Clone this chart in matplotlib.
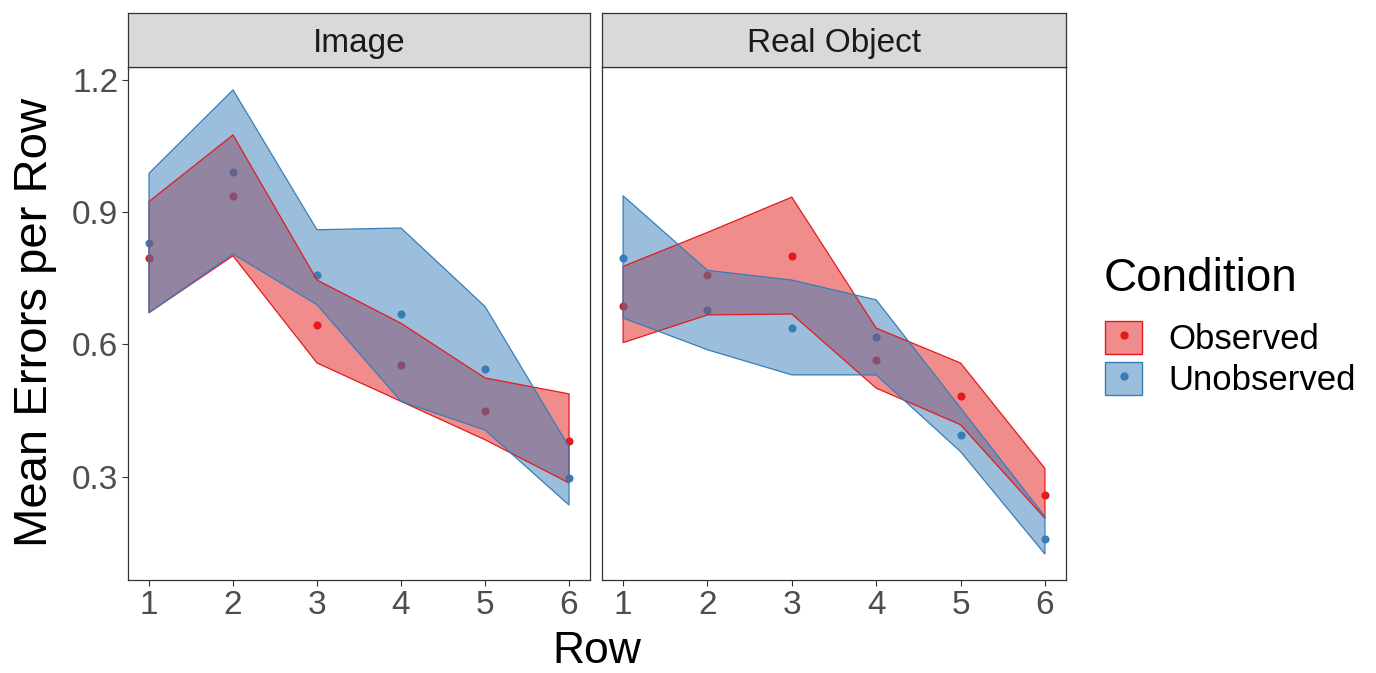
import matplotlib
matplotlib.use("Agg")
import matplotlib.pyplot as plt
from matplotlib.patches import Patch
from matplotlib.lines import Line2D

plt.rcParams['font.family'] = ['Liberation Sans', 'DejaVu Sans']

# data
rows = [1, 2, 3, 4, 5, 6]
panels = ["Image", "Real Object"]
conditions = ["Observed", "Unobserved"]

# Image panel
img_obs_mean = [0.797, 0.937, 0.645, 0.554, 0.449, 0.382]
img_obs_lo = [0.672, 0.801, 0.558, 0.471, 0.384, 0.286]
img_obs_hi = [0.924, 1.075, 0.746, 0.648, 0.524, 0.488]
img_unobs_mean = [0.829, 0.991, 0.758, 0.669, 0.545, 0.298]
img_unobs_lo = [0.672, 0.805, 0.690, 0.471, 0.406, 0.236]
img_unobs_hi = [0.988, 1.177, 0.860, 0.864, 0.686, 0.368]

# Real Object panel
real_obs_mean = [0.688, 0.758, 0.801, 0.565, 0.483, 0.258]
real_obs_lo = [0.604, 0.667, 0.669, 0.501, 0.418, 0.206]
real_obs_hi = [0.777, 0.854, 0.934, 0.637, 0.558, 0.319]
real_unobs_mean = [0.797, 0.677, 0.638, 0.616, 0.395, 0.160]
real_unobs_lo = [0.660, 0.588, 0.531, 0.531, 0.357, 0.125]
real_unobs_hi = [0.937, 0.768, 0.746, 0.701, 0.456, 0.210]

colors = {"Observed": "#E41A1C", "Unobserved": "#377EB8"}
data = {
    "Image": {
        "Observed": (img_obs_mean, img_obs_lo, img_obs_hi),
        "Unobserved": (img_unobs_mean, img_unobs_lo, img_unobs_hi),
    },
    "Real Object": {
        "Observed": (real_obs_mean, real_obs_lo, real_obs_hi),
        "Unobserved": (real_unobs_mean, real_unobs_lo, real_unobs_hi),
    },
}

W, H = 1376, 673
fig = plt.figure(figsize=(W / 100, H / 100), dpi=100)

frame_col = "#333333"
tick_col = "#4D4D4D"

# panel boxes in pixels (left, right)
panel_x = [(128, 590), (602, 1066)]
top, bottom = 67, 580
strip_top = 13

for i, name in enumerate(panels):
    x0, x1 = panel_x[i]
    ax = fig.add_axes([x0 / W, 1 - bottom / H, (x1 - x0) / W, (bottom - top) / H])
    for cond in conditions:
        mean, lo, hi = data[name][cond]
        c = colors[cond]
        ax.scatter(rows, mean, s=34, color=c, zorder=2, linewidths=0)
    for cond in conditions:
        mean, lo, hi = data[name][cond]
        c = colors[cond]
        ax.fill_between(rows, lo, hi, facecolor=c, alpha=0.5, edgecolor="none", zorder=3)
        ax.fill_between(rows, lo, hi, facecolor="none", edgecolor=c, linewidth=0.9, zorder=4)

    ax.set_xlim(0.75, 6.25)
    ax.set_ylim(0.066, 1.229)
    ax.set_xticks(rows)
    ax.set_xticklabels([str(r) for r in rows])
    ax.set_yticks([0.3, 0.6, 0.9, 1.2])
    ax.set_yticklabels(["0.3", "0.6", "0.9", "1.2"])
    ax.tick_params(colors=frame_col, labelcolor=tick_col, labelsize=24, length=4, width=0.8, pad=3)
    if i == 1:
        ax.tick_params(axis="y", left=False, labelleft=False)
    for sp in ax.spines.values():
        sp.set_color(frame_col)
        sp.set_linewidth(0.9)

    # facet strip
    sax = fig.add_axes([x0 / W, 1 - top / H, (x1 - x0) / W, (top - strip_top) / H])
    sax.set_facecolor("#D9D9D9")
    sax.set_xticks([])
    sax.set_yticks([])
    for sp in sax.spines.values():
        sp.set_color(frame_col)
        sp.set_linewidth(0.9)
    sax.text(0.5, 0.44, name, ha="center", va="center", fontsize=24, color="#1A1A1A",
             transform=sax.transAxes)

fig.text(597 / W, 1 - 663 / H, "Row", ha="center", va="baseline", fontsize=32)
fig.text(35 / W, 1 - 322 / H, "Mean Errors per Row", ha="center", va="center",
         rotation=90, fontsize=34)

# legend: title as its own text, keys below
fig.text(1104 / W, 1 - 279 / H, "Condition", ha="left", va="center", fontsize=33)
handles = []
for cond in conditions:
    c = colors[cond]
    handles.append((Patch(facecolor=c, alpha=0.5, edgecolor="none"),
                    Patch(facecolor="none", edgecolor=c, linewidth=1.0),
                    Line2D([], [], marker="o", color=c, linestyle="", markersize=5)))
fig.legend(handles, conditions, loc="upper left",
           bbox_to_anchor=(1105 / W, 1 - 321 / H), frameon=False, fontsize=25,
           handlelength=1.07, handleheight=1.07, labelspacing=0.17,
           handletextpad=0.75, borderpad=0, borderaxespad=0)

fig.savefig("out.png", dpi=100)
